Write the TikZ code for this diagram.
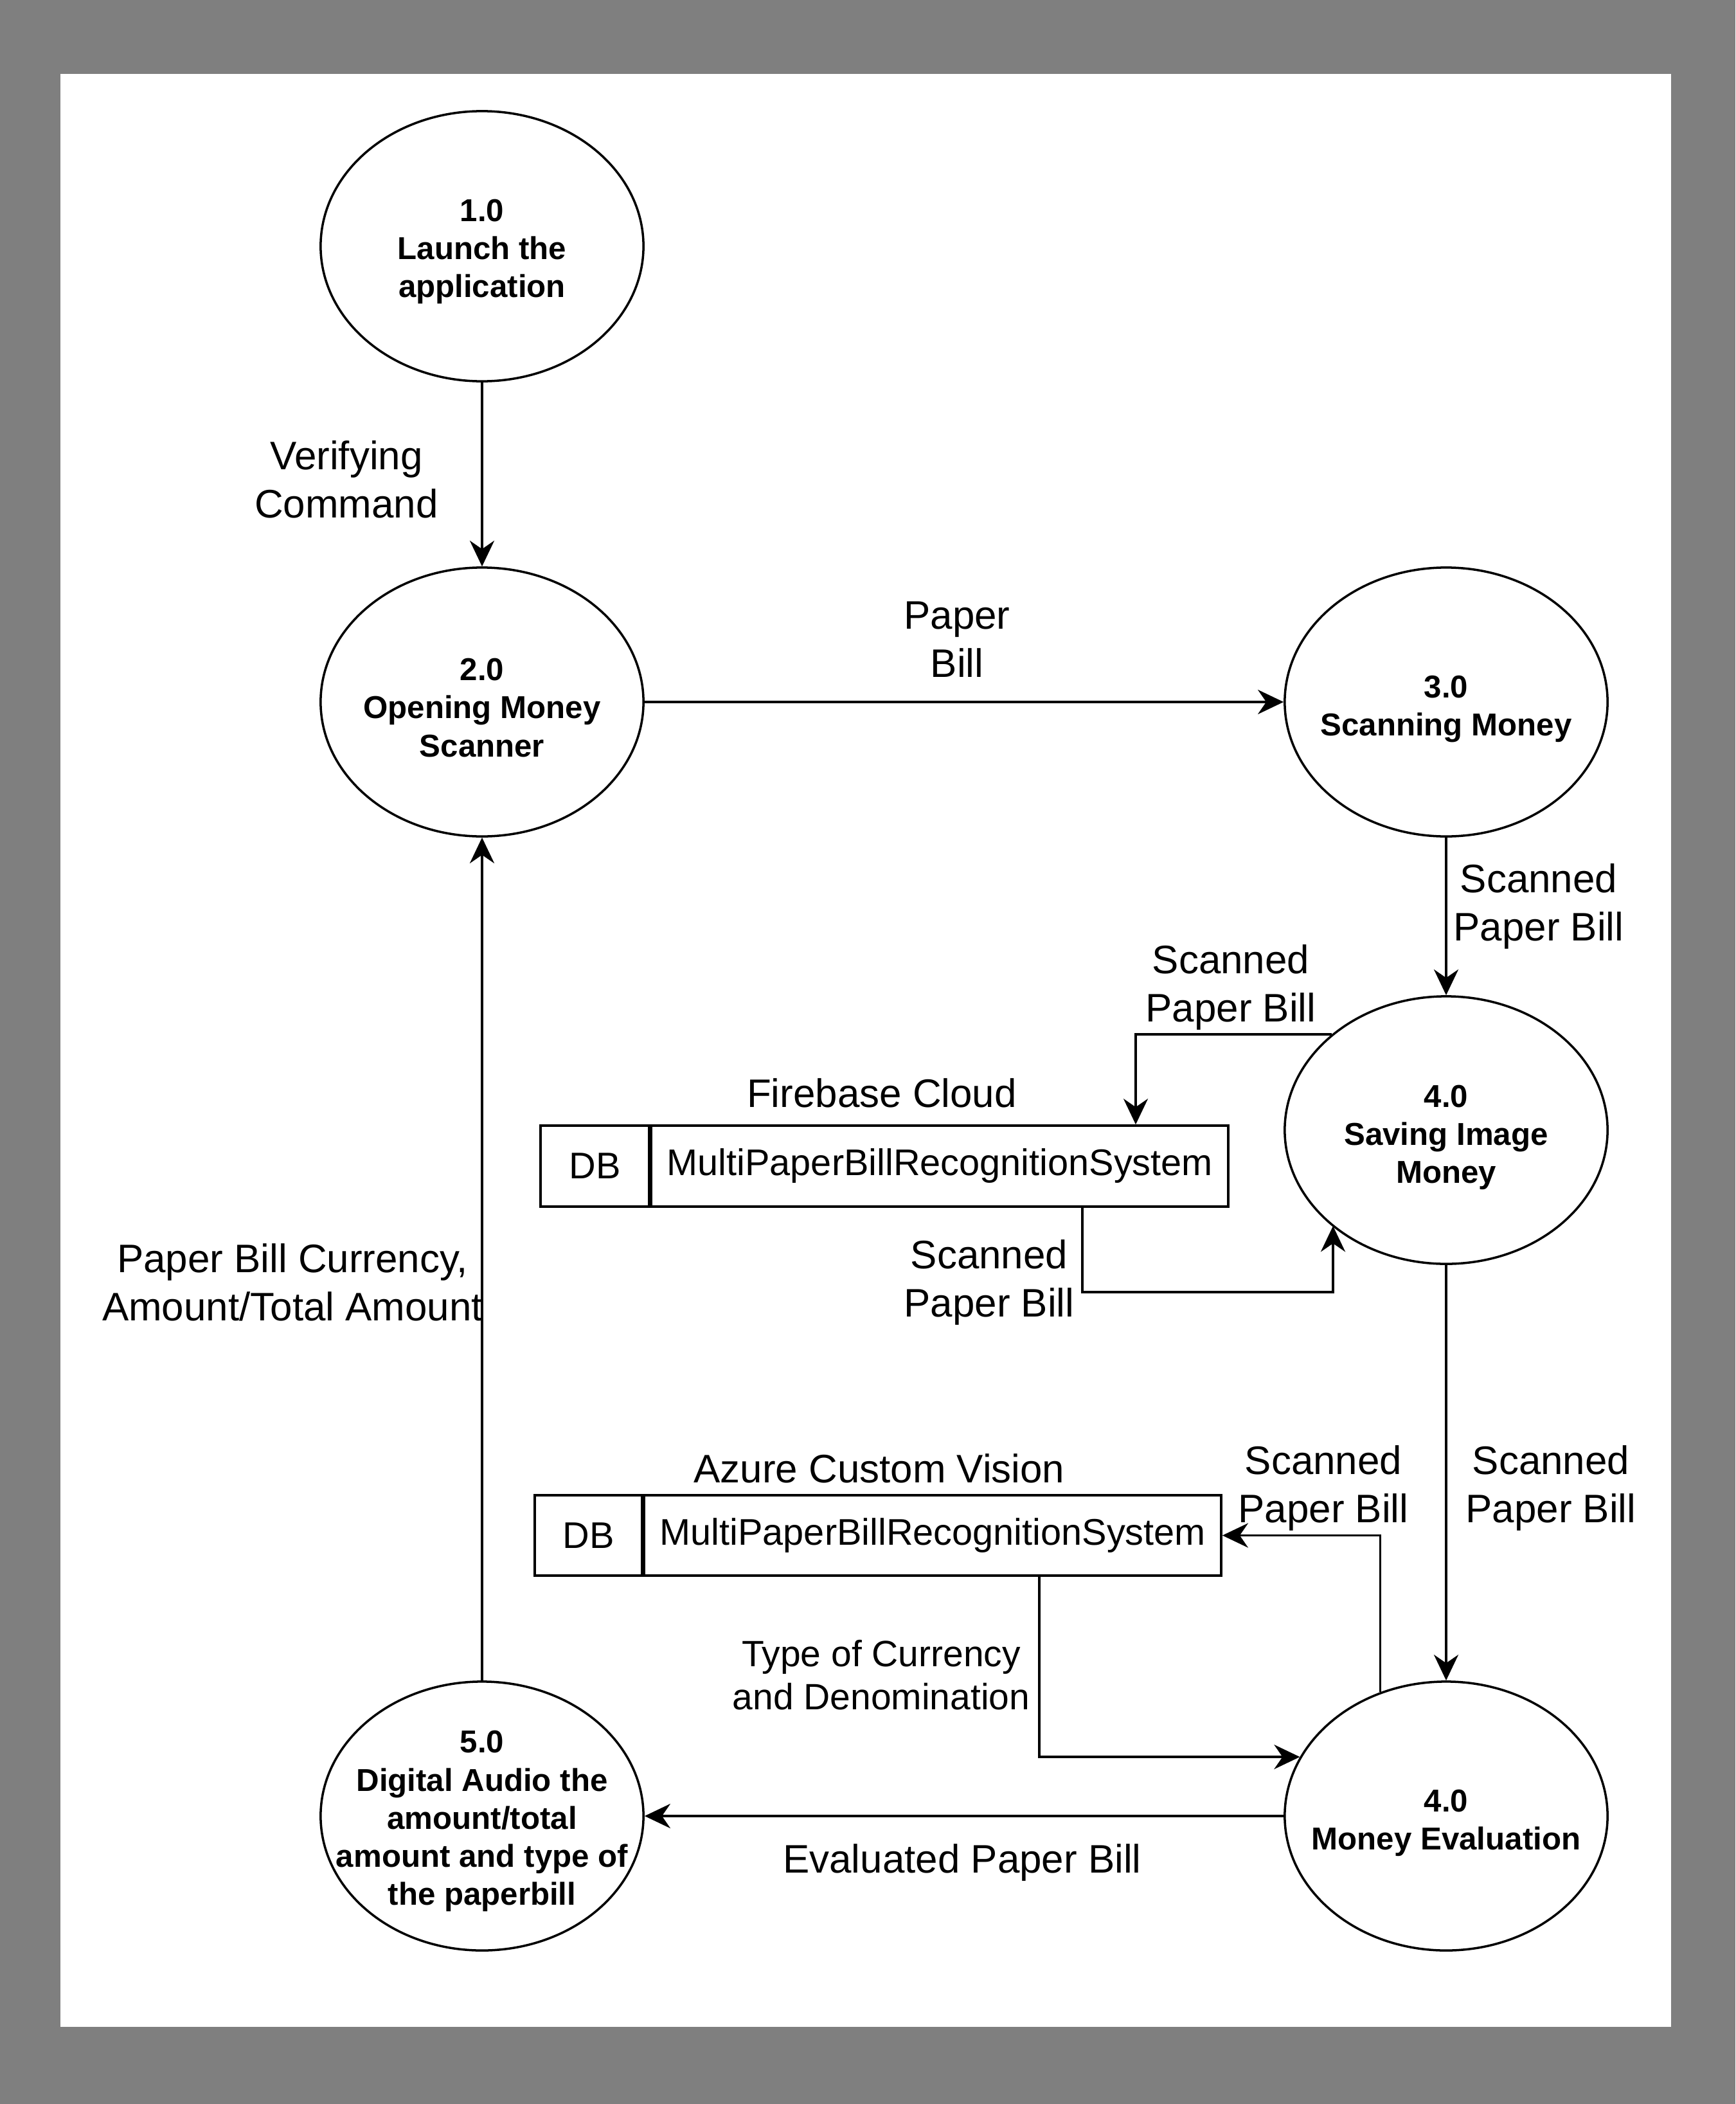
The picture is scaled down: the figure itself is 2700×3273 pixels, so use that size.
\documentclass[tikz,border=0pt]{standalone}
\usepackage{fontspec}
\setmainfont{Liberation Sans}
\usetikzlibrary{shapes.geometric,arrows.meta}
\definecolor{framegray}{RGB}{127,127,127}

\begin{document}
\begin{tikzpicture}[x=0.01cm,y=-0.01cm,
  proc/.style={draw, ellipse, line width=1pt, minimum width=5.02cm, minimum height=4.18cm, inner sep=0pt},
  ptext/.style={font=\bfseries\fontsize{14}{16.8}\selectfont, align=center, inner sep=0pt},
  flowlabel/.style={font=\fontsize{17.6}{21.3}\selectfont, align=center, inner sep=0pt},
  smalllabel/.style={font=\fontsize{16.2}{19.1}\selectfont, align=center, inner sep=0pt},
  store/.style={draw, line width=1pt, minimum height=1.26cm, inner sep=0pt, font=\fontsize{16.4}{19.1}\selectfont},
  flow/.style={line width=1.1pt, -{Stealth[length=0.4cm,width=0.38cm,inset=0.13cm]}},
]
% page frame
\useasboundingbox (0,0) rectangle (2700,3273);
\fill[framegray] (0,0) rectangle (2700,3273);
\fill[white] (94,115) rectangle (2600,3153);

% processes
\node[proc, minimum height=4.2cm] (e1) at (750,383) {};
\node[ptext] (t1) at (750,391) {1.0\\Launch the\\application};
\node[proc] (e2) at (750,1092) {};
\node[ptext] (t2) at (750,1101) {2.0\\Opening Money\\Scanner};
\node[proc] (e3) at (2250,1092) {};
\node[ptext] (t3) at (2250,1103) {3.0\\Scanning Money};
\node[proc, minimum height=4.16cm] (e4a) at (2250,1758) {};
\node[ptext] (t4a) at (2250,1769) {4.0\\Saving Image\\Money};
\node[proc] (e4b) at (2250,2825) {};
\node[ptext] (t4b) at (2250,2836) {4.0\\Money Evaluation};
\node[proc] (e5) at (750,2825) {};
\node[ptext] (t5) at (750,2833) {5.0\\Digital Audio the\\amount/total\\amount and type of\\the paperbill};

% data stores
\node[store, minimum width=1.69cm] (fbdb) at (925.5,1814) {DB};
\node[store, minimum width=8.97cm, anchor=west] (fb) at (fbdb.east) {MultiPaperBillRecognitionSystem};
\node[flowlabel] (fbt) at (1372,1700) {Firebase Cloud};
\node[store, minimum width=1.67cm, minimum height=1.25cm] (azdb) at (915.5,2388.5) {DB};
\node[store, minimum width=8.97cm, minimum height=1.25cm, anchor=west] (az) at (azdb.east) {MultiPaperBillRecognitionSystem};
\node[flowlabel] (azt) at (1368,2284) {Azure Custom Vision};

% bend points
\coordinate (fbin) at (1767,0);
\coordinate (fbout) at (1684,0);
\coordinate (fbret) at (2074,2010);
\coordinate (azout) at (1617,0);

% flows
\draw[flow] (e1) -- (e2);
\draw[flow] (e2) -- (e3);
\draw[flow] (e3) -- (e4a);
\draw[flow] (e4a.140.96) -| (fbin |- fb.north);
\draw[flow] (fbout |- fb.south) |- (fbret) -- (fbret |- e4a.220.06);
\draw[flow] (e4a) -- (e4b);
\draw[flow] (e4b.118.93) |- (az.east);
\draw[flow] (azout |- az.south) |- (e4b.158.6);
\draw[flow] (e4b) -- (e5);
\draw[flow] (e5) -- (e2);

% flow labels
\node[flowlabel] (l1) at (539,746) {Verifying\\Command};
\node[flowlabel] (l2) at (1489,995) {Paper\\Bill};
\node[flowlabel] (l3) at (2394,1410) {Scanned\\Paper Bill};
\node[flowlabel] (l4) at (1915,1536) {Scanned\\Paper Bill};
\node[flowlabel] (l5) at (1539,1995) {Scanned\\Paper Bill};
\node[flowlabel] (l6) at (455,1995) {Paper Bill Currency,\\Amount/Total Amount};
\node[flowlabel] (l7) at (2059,2315) {Scanned\\Paper Bill};
\node[flowlabel] (l8) at (2413,2315) {Scanned\\Paper Bill};
\node[smalllabel] (l9) at (1371,2606) {Type of Currency\\and Denomination};
\node[flowlabel] (l10) at (1497,2897) {Evaluated Paper Bill};
\end{tikzpicture}
\end{document}
